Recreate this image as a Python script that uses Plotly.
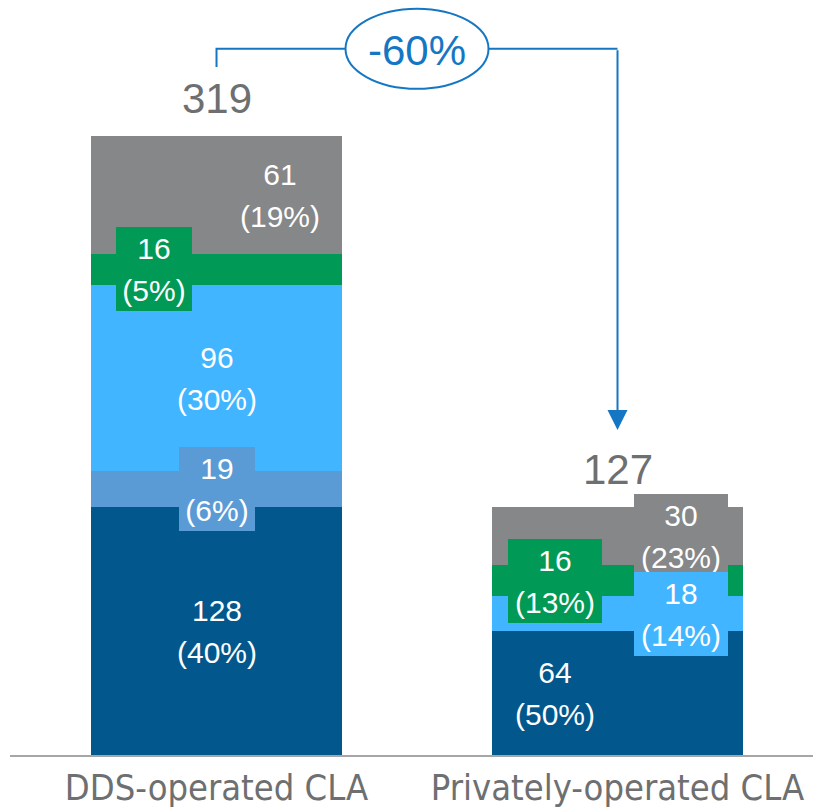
import plotly.graph_objects as go

# ---------------- data ----------------
categories = ["DDS-operated CLA", "Privately-operated CLA"]
totals = [319, 127]
change_label = "-60%"

# stacked segments, bottom to top
dark_values = [128, 64]
dark_pcts = ["40%", "50%"]
mid_values = [19, 0]
mid_pcts = ["6%", ""]
light_values = [96, 18]
light_pcts = ["30%", "14%"]
green_values = [16, 16]
green_pcts = ["5%", "13%"]
gray_values = [61, 30]
gray_pcts = ["19%", "23%"]

# ---------------- style ----------------
FONT = "Liberation Sans, Arial, sans-serif"
NARROW = "Liberation Sans Narrow, Arial Narrow, DejaVu Sans Condensed, Liberation Sans, sans-serif"
TEXT_GRAY = "#6D6F71"
ACCENT = "#1577C3"
PX_PER_UNIT = 1.935
PLOT_H = 755
BAR_W = 0.626

series = [
    # name, values, pcts, color, label x-shift per bar (px)
    ("Dark", dark_values, dark_pcts, "#02578C", [0, -63]),
    ("Medium", mid_values, mid_pcts, "#5B9BD5", [0, 0]),
    ("Light", light_values, light_pcts, "#41B5FF", [0, 63]),
    ("Green", green_values, green_pcts, "#009A56", [-63, -63]),
    ("Gray", gray_values, gray_pcts, "#858789", [63, 63]),
]

xs = list(range(len(categories)))
fig = go.Figure()
for name, vals, pcts, color, _ in series:
    fig.add_trace(go.Bar(x=xs, y=vals, name=name, width=BAR_W,
                         marker=dict(color=color, line=dict(width=0)),
                         showlegend=False, hoverinfo="skip"))

annotations = []
bases = []
run = [0] * len(categories)
for _, vals, _, _, _ in series:
    bases.append(list(run))
    run = [r + v for r, v in zip(run, vals)]
stack_tops = run

# labels, drawn top series first so lower boxes sit above
for k in reversed(range(len(series))):
    name, vals, pcts, color, shifts = series[k]
    for i, v in enumerate(vals):
        if not v:
            continue
        center = bases[k][i] + v / 2
        w = 76 if len(pcts[i]) <= 2 else 94
        common = dict(x=i, y=center, xref="x", yref="y", showarrow=False,
                      xshift=shifts[i], width=w, height=42, bgcolor=color,
                      borderpad=0, borderwidth=0,
                      font=dict(family=FONT, size=30, color="white"))
        annotations.append(dict(text=str(v), yshift=21, **common))
        annotations.append(dict(text="(" + pcts[i] + ")", yshift=-21, **common))

# totals
for i, t in enumerate(totals):
    annotations.append(dict(x=i, y=stack_tops[i], xref="x", yref="y", text=str(t),
                            showarrow=False, yanchor="bottom", yshift=12,
                            font=dict(family=FONT, size=42, color=TEXT_GRAY)))

# change bracket
bracket_y = 365
start_y = 355.6
tip_y = 168
mid_x = 0.5
annotations.append(dict(x=1, y=tip_y, ax=1, ay=bracket_y, xref="x", yref="y",
                        axref="x", ayref="y", text="", showarrow=True,
                        arrowhead=2, arrowsize=2, arrowwidth=2,
                        arrowcolor=ACCENT, standoff=0))
annotations.append(dict(x=mid_x, y=bracket_y, xref="x", yref="y", text=change_label,
                        showarrow=False, yshift=-2,
                        font=dict(family=FONT, size=42, color=ACCENT)))

shapes = [
    dict(type="path", xref="x", yref="y",
         path=f"M 0,{start_y} L 0,{bracket_y} L 1,{bracket_y}",
         line=dict(color=ACCENT, width=2)),
    dict(type="circle", xref="x", yref="y", xsizemode="pixel", ysizemode="pixel",
         xanchor=mid_x, yanchor=bracket_y, x0=-71.5, x1=71.5, y0=-40, y1=40,
         fillcolor="white", line=dict(color=ACCENT, width=2)),
]

fig.update_layout(
    width=813, height=811,
    margin=dict(l=10, r=0, t=0, b=56, autoexpand=False),
    barmode="stack",
    paper_bgcolor="white", plot_bgcolor="white",
    annotations=annotations, shapes=shapes,
    xaxis=dict(range=[-0.515, 1.4875], tickvals=xs, ticktext=categories,
               tickangle=0, ticklabelstandoff=0, automargin=False,
               ticklabeloverflow="allow",
               showline=True, linecolor="#A6A6A6", linewidth=2,
               showgrid=False, zeroline=False, ticks="",
               tickfont=dict(family=NARROW, size=36, color=TEXT_GRAY)),
    yaxis=dict(visible=False, range=[0, PLOT_H / PX_PER_UNIT], fixedrange=True,
               automargin=False),
)

fig.write_html("out.html", config={"displayModeBar": False},
               post_script="document.body.style.margin='0';document.body.style.overflow='hidden';")
